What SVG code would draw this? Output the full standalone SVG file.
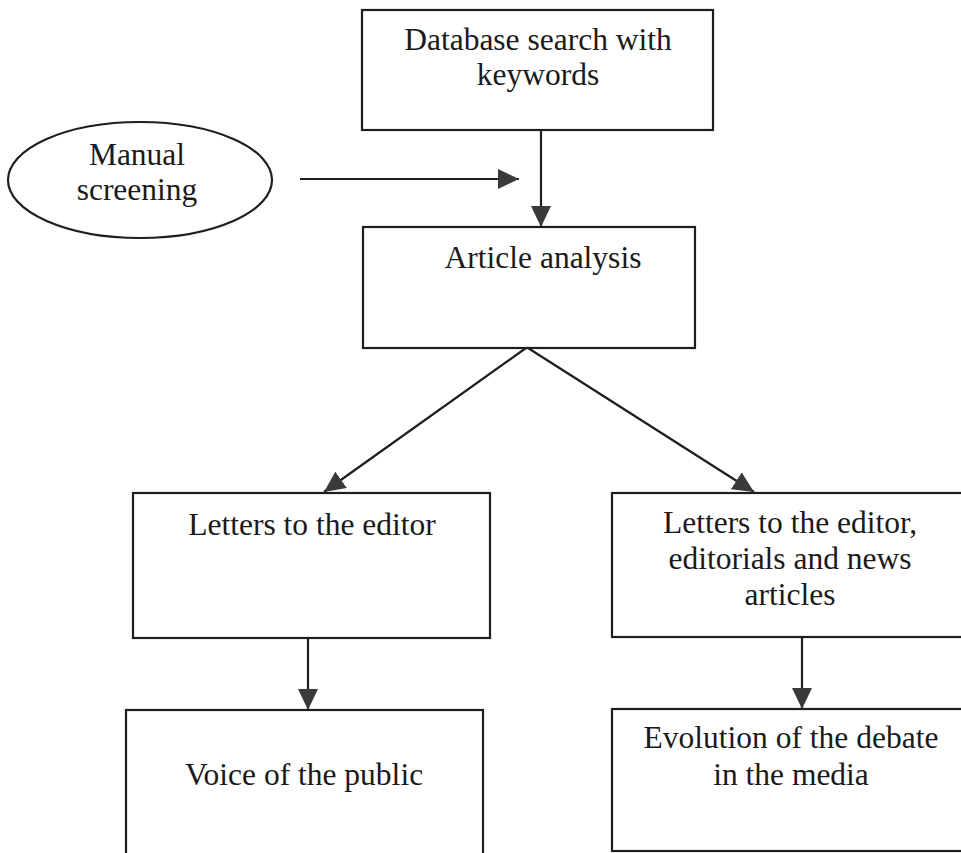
<svg xmlns="http://www.w3.org/2000/svg" width="961" height="853" viewBox="0 0 961 853">
  <style>
    .box { fill: #ffffff; stroke: #1e1e1e; stroke-width: 2.2; }
    .lbl { font-family: "Liberation Serif", "Times New Roman", serif; font-size: 31.5px; fill: #1a1a1a; text-anchor: middle; }
    .edge { stroke: #1e1e1e; stroke-width: 2.2; fill: none; marker-end: url(#head); }
  </style>
  <defs>
    <marker id="head" markerUnits="userSpaceOnUse" markerWidth="22" markerHeight="20" refX="21" refY="10" orient="auto">
      <path d="M0,0 L21,10 L0,20 Z" fill="#3a3a3a"/>
    </marker>
  </defs>
  <rect width="961" height="853" fill="#ffffff"/>

  <!-- flow arrows -->
  <g id="connectors">
    <line class="edge" x1="300" y1="179" x2="519" y2="179"/>
    <line class="edge" x1="541" y1="130" x2="541" y2="227"/>
    <line class="edge" x1="526" y1="348" x2="324" y2="492"/>
    <line class="edge" x1="528" y1="348" x2="754" y2="492"/>
    <line class="edge" x1="308" y1="638" x2="308" y2="710"/>
    <line class="edge" x1="802" y1="638" x2="802" y2="709"/>
  </g>

  <g id="database-search">
    <rect class="box" x="362" y="10" width="351" height="120"/>
    <text class="lbl" x="538" y="50">Database search with</text>
    <text class="lbl" x="538" y="85">keywords</text>
  </g>

  <g id="manual-screening">
    <ellipse class="box" cx="140" cy="180" rx="132" ry="58"/>
    <text class="lbl" x="137" y="165">Manual</text>
    <text class="lbl" x="137" y="200">screening</text>
  </g>

  <g id="article-analysis">
    <rect class="box" x="363" y="227" width="332" height="121"/>
    <text class="lbl" x="543" y="268">Article analysis</text>
  </g>

  <g id="letters-editor">
    <rect class="box" x="133" y="493" width="357" height="145"/>
    <text class="lbl" x="312" y="535">Letters to the editor</text>
  </g>

  <g id="letters-editorials-news">
    <rect class="box" x="612" y="493" width="370" height="144"/>
    <text class="lbl" x="790" y="533">Letters to the editor,</text>
    <text class="lbl" x="790" y="569">editorials and news</text>
    <text class="lbl" x="790" y="605">articles</text>
  </g>

  <g id="voice-public">
    <rect class="box" x="126" y="710" width="357" height="160"/>
    <text class="lbl" x="304" y="785">Voice of the public</text>
  </g>

  <g id="debate-evolution">
    <rect class="box" x="612" y="709" width="370" height="142"/>
    <text class="lbl" x="791" y="748">Evolution of the debate</text>
    <text class="lbl" x="791" y="785">in the media</text>
  </g>
</svg>
